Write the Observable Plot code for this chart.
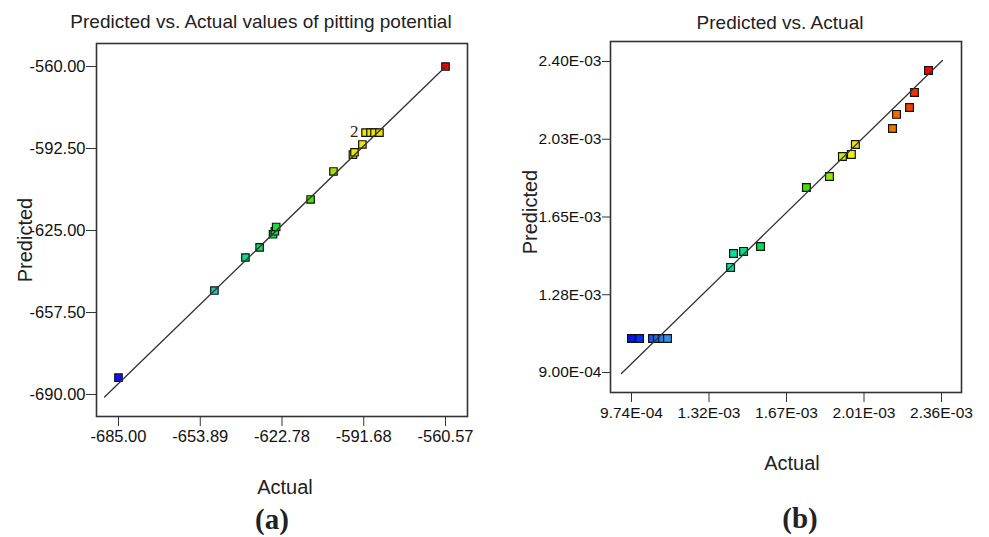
<!DOCTYPE html>
<html>
<head>
<meta charset="utf-8">
<script src="https://cdn.jsdelivr.net/npm/d3@7"></script>
<script src="https://cdn.jsdelivr.net/npm/@observablehq/plot@0.6"></script>
<style>
  html, body { margin: 0; padding: 0; background: #fff; }
  #root { position: relative; width: 989px; height: 537px; overflow: hidden; background: #fff;
          font-family: "Liberation Sans", Arial, sans-serif; color: #222; }
  .panel { position: absolute; top: 0; }
  .lbl { position: absolute; transform: translate(-50%, -50%); white-space: nowrap; line-height: 1; }
  .title { font-size: 19px; }
  .axl { font-size: 20px; }
  .rot { transform: translate(-50%, -50%) rotate(-90deg); }
  .tag { font-family: "Liberation Serif", "Times New Roman", serif; font-weight: bold; font-size: 29px; }
</style>
</head>
<body>
<div id="root">
  <div id="pa" class="panel" style="left:0px"></div>
  <div id="pb" class="panel" style="left:495px"></div>
  <div class="lbl title" style="left:261px; top:21px">Predicted vs. Actual values of pitting potential</div>
  <div class="lbl title" style="left:780px; top:22px">Predicted vs. Actual</div>
  <div class="lbl axl rot" style="left:25px; top:240px">Predicted</div>
  <div class="lbl axl rot" style="left:530px; top:212px">Predicted</div>
  <div class="lbl axl" style="left:285px; top:487px">Actual</div>
  <div class="lbl axl" style="left:792px; top:463px">Actual</div>
  <div class="lbl tag" style="left:272px; top:519px">(a)</div>
  <div class="lbl tag" style="left:800px; top:518px">(b)</div>
</div>
<script>
// ---------- Panel (a): pitting potential ----------
const actualA = [-685.0, -648.5, -636.7, -631.3, -626.2, -625.5, -625.0, -611.9, -603.2, -595.8, -595.2, -592.2, -591.0, -589.1, -587.6, -585.7, -560.57];
const predictedA = [-683.3, -648.8, -635.7, -631.7, -626.5, -625.3, -623.6, -612.7, -601.6, -594.9, -594.0, -590.9, -586.2, -586.2, -586.2, -586.2, -560.0];
const fitActualA = [-690.3, -560.2];
const fitPredictedA = [-691.0, -559.7];
const xTicksA = [-685.00, -653.89, -622.78, -591.68, -560.57];
const xTickLabelsA = ["-685.00", "-653.89", "-622.78", "-591.68", "-560.57"];
const yTicksA = [-560.0, -592.5, -625.0, -657.5, -690.0];
const yTickLabelsA = ["-560.00", "-592.50", "-625.00", "-657.50", "-690.00"];
const overlapActualA = [-591.0];
const overlapPredictedA = [-586.2];
const overlapCountA = ["2"];

// ---------- Panel (b) ----------
const actualB = [0.974e-3, 1.010e-3, 1.068e-3, 1.090e-3, 1.113e-3, 1.135e-3, 1.417e-3, 1.430e-3, 1.475e-3, 1.551e-3, 1.756e-3, 1.859e-3, 1.917e-3, 1.957e-3, 1.975e-3, 2.141e-3, 2.159e-3, 2.217e-3, 2.239e-3, 2.302e-3];
const predictedB = [1.064e-3, 1.064e-3, 1.064e-3, 1.064e-3, 1.064e-3, 1.064e-3, 1.407e-3, 1.474e-3, 1.484e-3, 1.508e-3, 1.792e-3, 1.845e-3, 1.942e-3, 1.952e-3, 2.000e-3, 2.077e-3, 2.145e-3, 2.178e-3, 2.251e-3, 2.357e-3];
const fitActualB = [0.929e-3, 2.364e-3];
const fitPredictedB = [0.895e-3, 2.405e-3];
const xTicksB = [0.974e-3, 1.3205e-3, 1.667e-3, 2.0135e-3, 2.36e-3];
const xTickLabelsB = ["9.74E-04", "1.32E-03", "1.67E-03", "2.01E-03", "2.36E-03"];
const yTicksB = [0.9e-3, 1.275e-3, 1.65e-3, 2.025e-3, 2.4e-3];
const yTickLabelsB = ["9.00E-04", "1.28E-03", "1.65E-03", "2.03E-03", "2.40E-03"];

// ---------- build tables ----------
const ptsA = actualA.map((a, i) => ({actual: a, predicted: predictedA[i]}));
const fitA = fitActualA.map((a, i) => ({actual: a, predicted: fitPredictedA[i]}));
const twoA = overlapActualA.map((a, i) => ({actual: a, predicted: overlapPredictedA[i], text: overlapCountA[i]}));
const ptsB = actualB.map((a, i) => ({actual: a, predicted: predictedB[i]}));
const fitB = fitActualB.map((a, i) => ({actual: a, predicted: fitPredictedB[i]}));

const fmt = (ticks, labels) => { const m = new Map(ticks.map((t, i) => [t, labels[i]])); return d => m.get(d); };

const baseStyle = {fontFamily: "'Liberation Sans', Arial, sans-serif", fontSize: "15px", color: "#222", background: "#fff", overflow: "visible"};

function setTextSize(svg, px) {
  svg.querySelectorAll("g[aria-label$='tick label'], g[aria-label$='tick label'] text").forEach(el => {
    el.setAttribute("font-size", px);
    el.style.fontSize = px + "px";
    el.style.fontFamily = "'Liberation Sans', Arial, sans-serif";
  });
}

const plotA = Plot.plot({
  width: 490, height: 537,
  marginLeft: 96, marginRight: 23, marginTop: 43, marginBottom: 121,
  style: baseStyle,
  x: {domain: [-693.37, -552.20]},
  y: {domain: [-698.72, -550.88]},
  color: {type: "linear",
          domain: [-685, -648.5, -636, -626, -612, -603, -595, -585, -560.57],
          range: ["#1010ff", "#20c8b8", "#00e088", "#10e040", "#50e000", "#a8e000", "#e8e800", "#f0e000", "#ff0000"]},
  marks: [
    Plot.frame({stroke: "#333", strokeWidth: 1.6}),
    Plot.axisX({ticks: xTicksA, tickFormat: fmt(xTicksA, xTickLabelsA), tickSize: 10, tickPadding: 4, label: null, stroke: "#333", fill: "#111"}),
    Plot.axisY({ticks: yTicksA, tickFormat: fmt(yTicksA, yTickLabelsA), tickSize: 10, tickPadding: 1, label: null, stroke: "#333", fill: "#111"}),
    Plot.dot(ptsA, {x: "actual", y: "predicted", symbol: "square", r: 4.2, fill: "actual", stroke: "#111", strokeWidth: 1.2}),
    Plot.line(fitA, {x: "actual", y: "predicted", stroke: "#333", strokeWidth: 1.3}),
    Plot.text(twoA, {x: "actual", y: "predicted", text: "text", dx: -7, dy: -1, textAnchor: "end", fontSize: 17, fontFamily: "'Liberation Serif', serif", fill: "#222"})
  ]
});
setTextSize(plotA, 16.5);
document.getElementById("pa").appendChild(plotA);

const plotB = Plot.plot({
  width: 494, height: 537,
  marginLeft: 115, marginRight: 28, marginTop: 41, marginBottom: 145,
  style: baseStyle,
  x: {domain: [0.8801e-3, 2.4494e-3]},
  y: {domain: [0.8035e-3, 2.4965e-3]},
  color: {type: "linear",
          domain: [0.974e-3, 1.010e-3, 1.135e-3, 1.42e-3, 1.55e-3, 1.76e-3, 1.96e-3, 2.15e-3, 2.302e-3],
          range: ["#0018e8", "#0030e8", "#3090e8", "#00e0a8", "#00e050", "#40e000", "#f0f000", "#f07000", "#ff0000"]},
  marks: [
    Plot.frame({stroke: "#333", strokeWidth: 1.6}),
    Plot.axisX({ticks: xTicksB, tickFormat: fmt(xTicksB, xTickLabelsB), tickSize: 10, tickPadding: 4, label: null, stroke: "#333", fill: "#111"}),
    Plot.axisY({ticks: yTicksB, tickFormat: fmt(yTicksB, yTickLabelsB), tickSize: 8, tickPadding: 1, label: null, stroke: "#333", fill: "#111"}),
    Plot.dot(ptsB, {x: "actual", y: "predicted", symbol: "square", r: 4.4, fill: "actual", stroke: "#111", strokeWidth: 1.2}),
    Plot.line(fitB, {x: "actual", y: "predicted", stroke: "#333", strokeWidth: 1.3})
  ]
});
setTextSize(plotB, 15.5);
document.getElementById("pb").appendChild(plotB);
</script>
</body>
</html>
